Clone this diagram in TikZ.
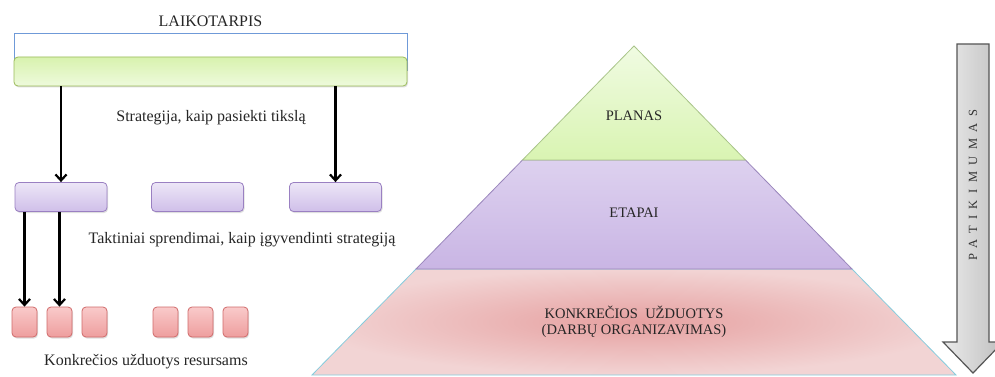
\documentclass[tikz,border=0pt]{standalone}
\usepackage{fontspec}
\setmainfont{Liberation Serif}
\usetikzlibrary{arrows.meta,shadows}
\definecolor{gtop}{HTML}{D8F2AE}
\definecolor{gbot}{HTML}{EEFADC}
\definecolor{gbd}{HTML}{9BBB59}
\definecolor{ptop}{HTML}{EDE6F7}
\definecolor{pbot}{HTML}{CFBFE9}
\definecolor{pbd}{HTML}{9A80C2}
\definecolor{rtop}{HTML}{F9CACA}
\definecolor{rbot}{HTML}{EE9E9E}
\definecolor{rbd}{HTML}{D06A6A}
\definecolor{wbd}{HTML}{6F9AD8}
\definecolor{pygt}{HTML}{F0FBE2}
\definecolor{pygb}{HTML}{D9F4B2}
\definecolor{pygbd}{HTML}{A9C489}
\definecolor{pypt}{HTML}{DDD1EF}
\definecolor{pypb}{HTML}{C9B5E4}
\definecolor{pypbd}{HTML}{9A86BC}
\definecolor{pyrin}{HTML}{E6A0A0}
\definecolor{pyrout}{HTML}{F2D4D4}
\definecolor{pyrbd}{HTML}{86CCDD}
\definecolor{arbd}{HTML}{555555}
\begin{document}
\begin{tikzpicture}[x=1pt,y=-1pt,
  lbl/.style={font=\fontsize{16}{18}\selectfont, inner sep=0pt, text=black!85},
  plbl/.style={font=\fontsize{14.5}{16}\selectfont, inner sep=0pt, align=center, text=black!85},
  shad/.style={drop shadow={opacity=0.25, shadow xshift=1pt, shadow yshift=-1.5pt}},
  whitebox/.style={draw=wbd, line width=0.7pt, fill=white, minimum width=393pt, minimum height=37pt, inner sep=0pt},
  greenbar/.style={draw=gbd, line width=0.8pt, rounded corners=4pt, top color=gtop, bottom color=gbot, minimum width=393pt, minimum height=29pt, inner sep=0pt, shad},
  tacbox/.style={draw=pbd, line width=0.8pt, rounded corners=4pt, top color=ptop, bottom color=pbot, minimum width=92pt, minimum height=29pt, inner sep=0pt, shad},
  taskbox/.style={draw=rbd, line width=0.8pt, rounded corners=4pt, top color=rtop, bottom color=rbot, minimum width=25pt, minimum height=30pt, inner sep=0pt, shad},
  conn/.style={line width=2.2pt, -{Straight Barb[length=6pt,width=11pt,line width=2.2pt]}}
]
\useasboundingbox[fill=white] (0,0) rectangle (995,377);

% left part
\node[lbl] (laik) at (210.5,21) {LAIKOTARPIS};
\node[whitebox] (wb) at (210.5,51.5) {};
\node[greenbar] (g) at (210.5,71.5) {};
\node[lbl] (strat) at (211,118) {Strategija, kaip pasiekti tikslą};

\node[tacbox] (t1) at (61,197) {};
\node[tacbox] (t2) at (197.5,197) {};
\node[tacbox] (t3) at (335.5,197) {};
\node[lbl] (takt) at (242,240) {Taktiniai sprendimai, kaip įgyvendinti strategiją};

\node[taskbox] (r1) at (24.5,322) {};
\node[taskbox] (r2) at (59.5,322) {};
\node[taskbox] (r3) at (94.5,322) {};
\node[taskbox] (r4) at (165.5,322) {};
\node[taskbox] (r5) at (200.5,322) {};
\node[taskbox] (r6) at (235.5,322) {};
\node[lbl] (konk) at (146,362) {Konkrečios užduotys resursams};

\draw[conn] (g.south -| t1.north) -- (t1.north);
\draw[conn] (g.south -| t3.north) -- (t3.north);
\draw[conn] (t1.south -| r1.north) -- (r1.north);
\draw[conn] (t1.south -| r2.north) -- (r2.north);

% pyramid
\coordinate (apex) at (634,46);
\path[draw=pyrbd, line width=0.8pt, inner color=pyrin, outer color=pyrout]
  (416,269) -- (852,269) -- (956,375) -- (312,375) -- cycle;
\path[draw=pypbd, line width=0.8pt, top color=pypt, bottom color=pypb]
  (522.5,160) -- (745.5,160) -- (852,269) -- (416,269) -- cycle;
\path[draw=pygbd, line width=0.8pt, top color=pygt, bottom color=pygb]
  (apex) -- (745.5,160) -- (522.5,160) -- cycle;
\node[plbl] (plan) at (634,116) {PLANAS};
\node[plbl] (etap) at (634,213) {ETAPAI};
\node[plbl] (uzd) at (634,322) {KONKREČIOS \ UŽDUOTYS\\(DARBŲ ORGANIZAVIMAS)};

% reliability arrow
\path[draw=arbd, line width=1.2pt, left color=black!8, right color=black!25]
  (957,44) -- (989,44) -- (989,342) -- (1003,342) -- (973,373) -- (943,342) -- (957,342) -- cycle;
\node[rotate=90, inner sep=0pt, font=\fontsize{12.5}{14}\selectfont\addfontfeature{LetterSpace=52}, text=black!80] (pat) at (973,185) {PATIKIMUMAS};
\end{tikzpicture}
\end{document}
